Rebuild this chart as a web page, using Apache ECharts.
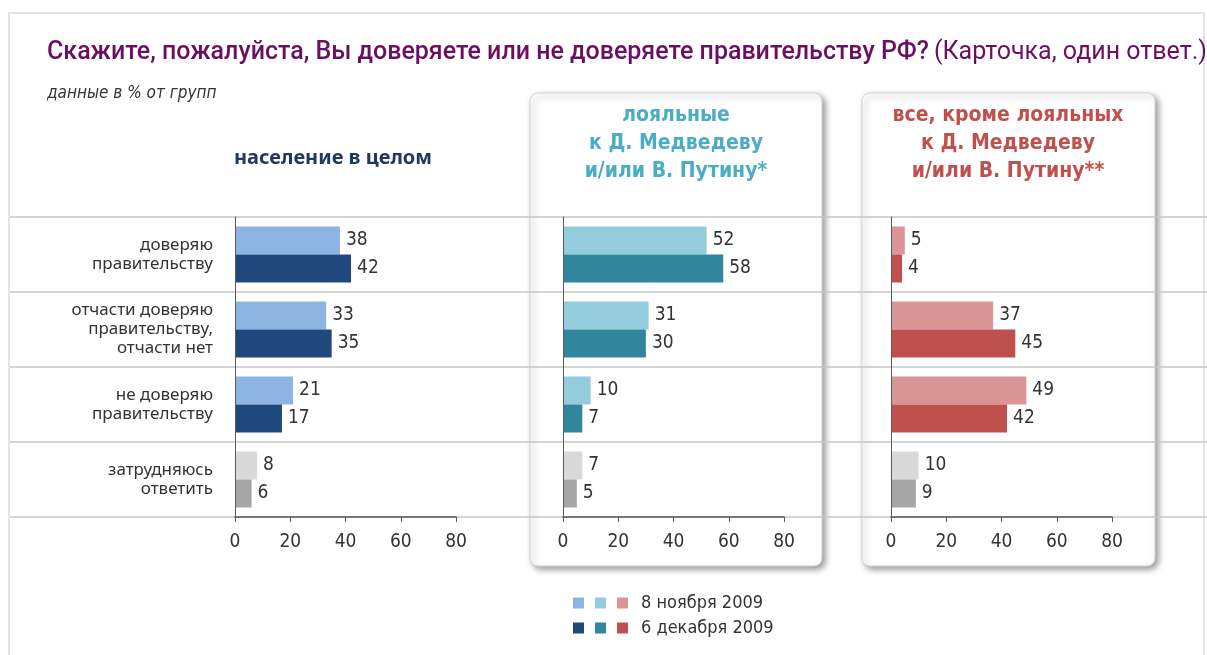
<!DOCTYPE html>
<html>
<head>
<meta charset="utf-8">
<title>Доверие правительству РФ</title>
<script src="https://cdn.jsdelivr.net/npm/echarts@6/dist/echarts.min.js"></script>
<style>
    html, body { margin: 0; padding: 0; background: #fff; }
    #chart { width: 1207px; height: 655px; }
</style>
</head>
<body>
<div id="chart"></div>
<script>
const categories = [
    'доверяю\nправительству',
    'отчасти доверяю\nправительству,\nотчасти нет',
    'не доверяю\nправительству',
    'затрудняюсь\nответить'
];
const populationNov = [38, 33, 21, 8];
const populationDec = [42, 35, 17, 6];
const loyalNov = [52, 31, 10, 7];
const loyalDec = [58, 30, 7, 5];
const othersNov = [5, 37, 49, 10];
const othersDec = [4, 45, 42, 9];
const xTicks = [0, 20, 40, 60, 80];
const legendNov = '8 ноября 2009';
const legendDec = '6 декабря 2009';

const NARROW = '"DejaVu Sans Condensed", "Liberation Sans Narrow", sans-serif';
const SANS = '"Noto Sans", "Open Sans", sans-serif';
const TITLE_FONT = 'Roboto, "Noto Sans", sans-serif';

const panels = [
    {key: 'население', left: 235, nov: populationNov, dec: populationDec, light: '#8eb4e3', dark: '#1f497d'},
    {key: 'лояльные', left: 563, nov: loyalNov, dec: loyalDec, light: '#93cddd', dark: '#31859c'},
    {key: 'остальные', left: 891, nov: othersNov, dec: othersDec, light: '#d99694', dark: '#c0504d'}
];

/**
 * Builds bar data; the "затрудняюсь ответить" row is drawn in gray.
 */
function barData(values, grayColor) {
    return values.map(function (v, i) {
        if (i === values.length - 1) {
            return {value: v, itemStyle: {color: grayColor}};
        }
        return v;
    });
}

const grids = [];
const xAxes = [];
const yAxes = [];
const series = [];

panels.forEach(function (p, idx) {
    grids.push({left: p.left, top: 217, width: 221, height: 300});
    xAxes.push({
        type: 'value', gridIndex: idx, min: xTicks[0], max: xTicks[xTicks.length - 1], interval: 20,
        z: 3,
        axisLine: {show: true, lineStyle: {color: '#5a5a5a', width: 1.5}},
        axisTick: {show: true, length: 5, lineStyle: {color: '#5a5a5a'}},
        splitLine: {show: false},
        axisLabel: {margin: 16, fontSize: 19, color: '#333', fontFamily: NARROW}
    });
    yAxes.push({
        type: 'category', gridIndex: idx, data: categories, inverse: true,
        z: 3,
        axisLine: {show: true, lineStyle: {color: '#5a5a5a', width: 1}},
        axisTick: {show: false},
        axisLabel: {
            show: idx === 0, margin: 22, fontSize: 17, lineHeight: 19,
            color: '#333', fontFamily: SANS, align: 'right'
        }
    });
    const label = {
        show: true, position: 'right', distance: 6,
        fontSize: 19, color: '#333', fontFamily: NARROW
    };
    series.push({
        name: p.key + ' ' + legendNov, type: 'bar', xAxisIndex: idx, yAxisIndex: idx,
        barWidth: 28, barGap: '0%', itemStyle: {color: p.light},
        label: label, data: barData(p.nov, '#d9d9d9')
    });
    series.push({
        name: p.key + ' ' + legendDec, type: 'bar', xAxisIndex: idx, yAxisIndex: idx,
        barWidth: 28, barGap: '0%', itemStyle: {color: p.dark},
        label: label, data: barData(p.dec, '#a6a6a6')
    });
});

// full width row separators
grids.push({left: 10, right: 0, top: 217, height: 300});
xAxes.push({type: 'value', gridIndex: 3, show: false, min: 0, max: 1});
yAxes.push({
    type: 'category', gridIndex: 3, data: categories, inverse: true, z: 1,
    axisLine: {show: false}, axisTick: {show: false}, axisLabel: {show: false},
    splitLine: {show: true, lineStyle: {color: '#c6c6c6', width: 1.5}}
});

function legendRow(suffix, top) {
    const names = panels.map(function (p) { return p.key + ' ' + suffix; });
    return {
        data: names, left: 573, top: top, orient: 'horizontal', padding: 0,
        selectedMode: false, icon: 'rect', itemWidth: 11, itemHeight: 11, itemGap: 11,
        textStyle: {fontSize: 18, color: '#333', fontFamily: NARROW, padding: [0, 0, 0, 8]},
        formatter: function (name) {
            return name === names[names.length - 1] ? suffix : '';
        }
    };
}

function panelBox(x, w) {
    return {
        type: 'rect', z: -5,
        shape: {x: x, y: 93, width: w, height: 473, r: 8},
        style: {
            fill: '#fff', stroke: '#d4d4d4', lineWidth: 1,
            shadowBlur: 6, shadowOffsetX: 3, shadowOffsetY: 3, shadowColor: 'rgba(0,0,0,0.4)'
        }
    };
}

const chart = echarts.init(document.getElementById('chart'));
chart.setOption({
    animation: false,
    title: [
        {
            text: '{b|Скажите, пожалуйста, Вы доверяете или не доверяете правительству РФ?} {n|(Карточка, один ответ.)}',
            left: 42, top: 35,
            textStyle: {
                rich: {
                    b: {fontSize: 25, fontWeight: 500, color: '#6b0f63', fontFamily: TITLE_FONT},
                    n: {fontSize: 25, fontWeight: 'normal', color: '#6b0f63', fontFamily: TITLE_FONT}
                }
            }
        },
        {
            text: 'данные в % от групп', left: 42, top: 80,
            textStyle: {fontSize: 17, fontStyle: 'italic', fontWeight: 'normal', color: '#333', fontFamily: NARROW}
        },
        {
            text: 'население в целом', left: 328, top: 143, textAlign: 'center',
            textStyle: {fontSize: 20, fontWeight: 'bold', color: '#1f3864', fontFamily: SANS}
        },
        {
            text: 'лояльные\nк Д. Медведеву\nи/или В. Путину*', left: 671, top: 97, textAlign: 'center',
            textStyle: {fontSize: 21, lineHeight: 28, fontWeight: 'bold', color: '#4bacc6', fontFamily: NARROW}
        },
        {
            text: 'все, кроме лояльных\nк Д. Медведеву\nи/или В. Путину**', left: 1003, top: 97, textAlign: 'center',
            textStyle: {fontSize: 21, lineHeight: 28, fontWeight: 'bold', color: '#c0504d', fontFamily: NARROW}
        }
    ],
    legend: [legendRow(legendNov, 594), legendRow(legendDec, 619)],
    graphic: {
        elements: [
            {
                type: 'rect', z: -10,
                shape: {x: 9, y: 13, width: 1195, height: 700},
                style: {fill: '#fff', stroke: '#dcdcdc', lineWidth: 1.5}
            },
            panelBox(530, 292),
            panelBox(862, 293)
        ]
    },
    grid: grids,
    xAxis: xAxes,
    yAxis: yAxes,
    series: series
});
</script>
</body>
</html>
